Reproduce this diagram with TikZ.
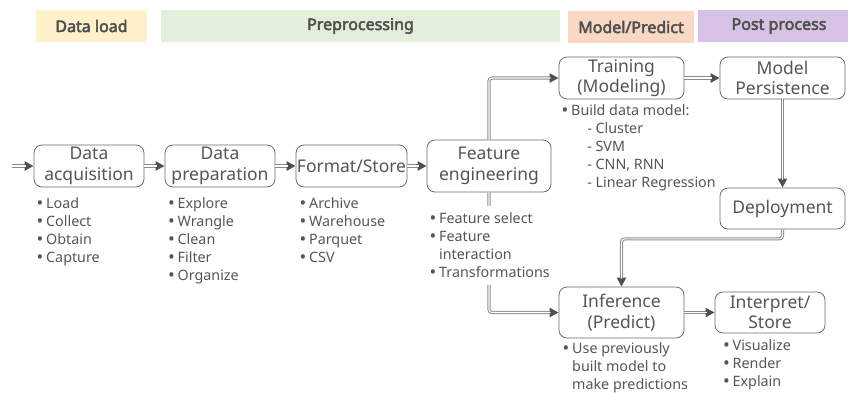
\documentclass[tikz,border=0pt]{standalone}
\usepackage{fontspec}
\setmainfont{Noto Sans}[AutoFakeBold=3]
\usetikzlibrary{arrows.meta}
\definecolor{txt}{HTML}{555555}
\definecolor{hdr}{HTML}{4F4F4F}
\definecolor{boxc}{HTML}{6A6A6A}
\definecolor{linec}{HTML}{8C8C8C}
\definecolor{tipc}{HTML}{505050}
\definecolor{cload}{HTML}{FFF1CC}
\definecolor{cpre}{HTML}{E3EFDB}
\definecolor{cmod}{HTML}{F9D9C3}
\definecolor{cpost}{HTML}{D6C3E3}
\tikzset{
  proc/.style={draw=boxc, line width=0.8pt, rounded corners=8pt, align=center, text=txt,
    font=\fontsize{17.5}{20.5}\selectfont, inner sep=0pt},
  hdrbar/.style={inner sep=0pt, text=hdr, font=\fontsize{16}{18}\selectfont\bfseries},
  blist/.style={anchor=north west, align=left, inner sep=0pt, text=txt,
    font=\fontsize{14.3}{18}\selectfont},
  conn/.style={draw=linec, line width=3.1pt, rounded corners=3pt,
    -{Triangle[length=9pt 0 0,width=9pt 0 0,color=tipc,fill=tipc]},
    postaction={draw=white, line width=1.1pt, -, shorten >=8pt}}
}
\newcommand{\bl}{\makebox[9.5pt][l]{\raisebox{-1pt}{\fontsize{18}{18}\selectfont\textbullet}}}
\newcommand{\ind}{\hspace*{9.5pt}}
\newcommand{\fs}{\rule{0pt}{12pt}}
\begin{document}
\begin{tikzpicture}[x=1pt,y=-1pt]
\useasboundingbox (0,0) rectangle (848,392);
% header bars
\node[hdrbar, fill=cload, minimum width=111pt, minimum height=32pt] (hload) at (91.5,26) {Data load};
\node[hdrbar, fill=cpre, minimum width=399pt, minimum height=32pt] (hpre) at (360.5,26) {Preprocessing};
\node[hdrbar, fill=cmod, minimum width=126pt, minimum height=32pt] (hmod) at (631,27) {Model/Predict};
\node[hdrbar, fill=cpost, minimum width=162pt, minimum height=32pt] (hpost) at (779,26) {Post process};
% process nodes
\node[proc, minimum width=110pt, minimum height=42pt] (acq) at (89,166) {Data\\acquisition};
\node[proc, minimum width=110pt, minimum height=42pt] (prep) at (220,166) {Data\\preparation};
\node[proc, minimum width=111pt, minimum height=42pt] (fmt) at (351.5,166) {Format/Store};
\node[proc, minimum width=124pt, minimum height=52pt] (feat) at (489,166) {Feature\\engineering};
\node[proc, minimum width=125pt, minimum height=42pt] (train) at (621.5,78) {Training\\(Modeling)};
\node[proc, minimum width=125pt, minimum height=42pt] (pers) at (782.5,78) {Model\\Persistence};
\node[proc, minimum width=125pt, minimum height=41pt] (dep) at (782.5,208.5) {Deployment};
\node[proc, minimum width=125pt, minimum height=51pt] (inf) at (621.5,312.5) {Inference\\(Predict)};
\node[proc, minimum width=110pt, minimum height=41pt] (interp) at (770,312.5) {Interpret/\\Store};
% connectors
\coordinate (start) at (12,166);
\draw[conn] (start) -- (acq.west);
\draw[conn] (acq.east) -- (prep.west);
\draw[conn] (prep.east) -- (fmt.west);
\draw[conn] (fmt.east) -- (feat.west);
\draw[conn] (feat.north) |- (train.west);
\draw[conn] (train.east) -- (pers.west);
\draw[conn] (pers.south) -- (dep.north);
\draw[conn] (dep.south) -- ++(0,9.5) -| (inf.north);
\draw[conn] (feat.south) |- (inf.west);
\draw[conn] (inf.east) -- (interp.west);
% bullet lists (first baseline = y + 12)
\node[blist] (lacq) at (36.5,196.3) {\fs\bl Load\\\bl Collect\\\bl Obtain\\\bl Capture};
\node[blist] (lprep) at (168,196.3) {\fs\bl Explore\\\bl Wrangle\\\bl Clean\\\bl Filter\\\bl Organize};
\node[blist] (lfmt) at (299.5,195.8) {\fs\bl Archive\\\bl Warehouse\\\bl Parquet\\\bl CSV};
\node[blist, fill=white, inner ysep=6pt, inner xsep=1pt] (lfeat) at (428.5,205.7) {\fs\bl Feature select\\\bl Feature\\\ind interaction\\\bl Transformations};
\node[blist] (ltrain) at (561.5,103) {\fs\bl Build data model:\\\hspace*{25.6pt}- Cluster\\\hspace*{25.6pt}- SVM\\\hspace*{25.6pt}- CNN, RNN\\\hspace*{25.6pt}- Linear Regression};
\node[blist] (linf) at (562.5,341.3) {\fs\bl Use previously\\\ind built model to\\\ind make predictions};
\node[blist] (linterp) at (723,338) {\fs\bl Visualize\\\bl Render\\\bl Explain};
\end{tikzpicture}
\end{document}
